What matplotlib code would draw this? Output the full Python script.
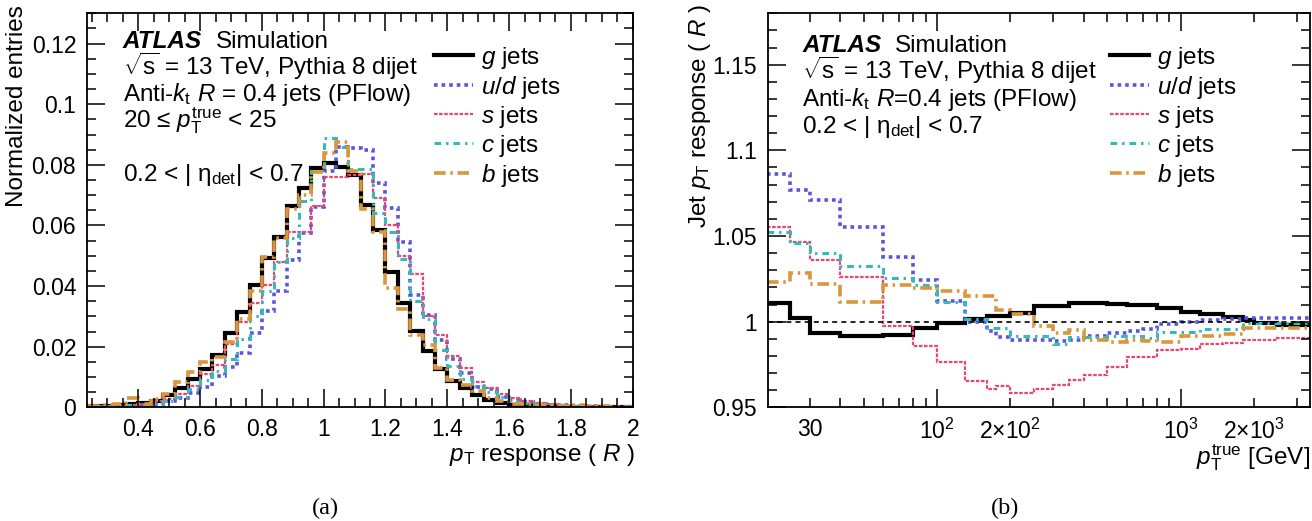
import numpy as np
import matplotlib
matplotlib.use("Agg")
import matplotlib.pyplot as plt
from matplotlib.lines import Line2D
from matplotlib.ticker import MultipleLocator, FixedLocator, FuncFormatter, LogLocator

plt.rcParams['font.family'] = ['Liberation Sans', 'DejaVu Sans']
plt.rcParams['mathtext.fontset'] = 'custom'
plt.rcParams['mathtext.rm'] = 'Liberation Sans'
plt.rcParams['mathtext.it'] = 'Liberation Sans:italic'
plt.rcParams['mathtext.bf'] = 'Liberation Sans:bold'
FS = 17.5
TFS = 16.5

# ---- (a) response distributions, 20 <= pT < 25 GeV ----
resp_edges = np.round(np.arange(0.24, 2.0001, 0.04), 2)

g_resp = [0.0003, 0.0005, 0.0007, 0.0010, 0.0015, 0.0020, 0.0040, 0.0065, 0.0092, 0.0128,
          0.0172, 0.0246, 0.0314, 0.0405, 0.0494, 0.0562, 0.0664, 0.0722, 0.0788, 0.0807,
          0.0793, 0.0765, 0.0667, 0.0584, 0.0447, 0.0343, 0.0251, 0.0186, 0.0125, 0.0087,
          0.0063, 0.0041, 0.0024, 0.0015, 0.0009, 0.0006, 0.0004, 0.0003, 0.0002, 0.0002,
          0.0001, 0.0001, 0.0001, 0.0001]
ud_resp = [0.0002, 0.0002, 0.0003, 0.0005, 0.0008, 0.0012, 0.0020, 0.0030, 0.0046, 0.0068,
           0.0103, 0.0134, 0.0180, 0.0244, 0.0318, 0.0384, 0.0485, 0.0575, 0.0661, 0.0780,
           0.0860, 0.0855, 0.0850, 0.0740, 0.0656, 0.0546, 0.0372, 0.0306, 0.0222, 0.0158,
           0.0114, 0.0068, 0.0059, 0.0035, 0.0025, 0.0016, 0.0011, 0.0008, 0.0006, 0.0004,
           0.0003, 0.0002, 0.0002, 0.0001]
s_resp = [0.0003, 0.0004, 0.0005, 0.0008, 0.0012, 0.0020, 0.0028, 0.0045, 0.0070, 0.0110,
          0.0140, 0.0210, 0.0280, 0.0345, 0.0405, 0.0480, 0.0580, 0.0580, 0.0665, 0.0760,
          0.0760, 0.0765, 0.0770, 0.0690, 0.0600, 0.0500, 0.0440, 0.0300, 0.0240, 0.0170,
          0.0130, 0.0085, 0.0065, 0.0045, 0.0030, 0.0020, 0.0014, 0.0010, 0.0007, 0.0005,
          0.0004, 0.0003, 0.0002, 0.0002]
c_resp = [0.0002, 0.0003, 0.0004, 0.0006, 0.0008, 0.0014, 0.0022, 0.0035, 0.0060, 0.0090,
          0.0120, 0.0160, 0.0225, 0.0300, 0.0385, 0.0480, 0.0560, 0.0680, 0.0780, 0.0890,
          0.0860, 0.0785, 0.0785, 0.0640, 0.0580, 0.0490, 0.0350, 0.0290, 0.0190, 0.0135,
          0.0095, 0.0070, 0.0050, 0.0035, 0.0022, 0.0015, 0.0010, 0.0007, 0.0005, 0.0004,
          0.0003, 0.0002, 0.0002, 0.0001]
b_resp = [0.0004, 0.0006, 0.0010, 0.0030, 0.0012, 0.0028, 0.0045, 0.0085, 0.0115, 0.0150,
          0.0165, 0.0215, 0.0290, 0.0385, 0.0495, 0.0560, 0.0655, 0.0700, 0.0775, 0.0840,
          0.0875, 0.0780, 0.0655, 0.0580, 0.0395, 0.0325, 0.0240, 0.0205, 0.0130, 0.0090,
          0.0075, 0.0055, 0.0030, 0.0020, 0.0012, 0.0010, 0.0008, 0.0006, 0.0005, 0.0007,
          0.0004, 0.0003, 0.0002, 0.0001]

# ---- (b) mean response vs pT(true) ----
pt_edges = [20, 25, 30, 40, 60, 80, 100, 130, 160, 175, 200, 250, 300, 350, 400, 500,
            600, 700, 800, 1000, 1200, 1500, 1800, 2000, 2500, 3000, 3500]

g_mean = [1.0109, 1.0022, 0.9934, 0.9915, 0.9924, 0.9963, 0.9990, 1.0016, 1.0031, 1.0031,
          1.0050, 1.0089, 1.0093, 1.0109, 1.0109, 1.0103, 1.0099, 1.0097, 1.0080, 1.0056,
          1.0045, 1.0026, 1.0010, 0.9990, 0.9978, 0.9978]
ud_mean = [1.0860, 1.0767, 1.0709, 1.0551, 1.0380, 1.0244, 1.0118, 0.9996, 0.9944, 0.9911,
           0.9890, 0.9890, 0.9886, 0.9895, 0.9915, 0.9934, 0.9945, 0.9957, 0.9987, 0.9996,
           1.0008, 1.0016, 1.0023, 1.0023, 1.0020, 1.0020]
s_mean = [1.0550, 1.0467, 1.0360, 1.0258, 0.9977, 0.9857, 0.9766, 0.9653, 0.9605, 0.9624,
          0.9585, 0.9605, 0.9628, 0.9659, 0.9686, 0.9735, 0.9795, 0.9795, 0.9837, 0.9840,
          0.9870, 0.9875, 0.9890, 0.9895, 0.9905, 0.9905]
c_mean = [1.0521, 1.0461, 1.0403, 1.0326, 1.0254, 1.0215, 1.0112, 1.0016, 0.9963, 0.9963,
          0.9915, 0.9915, 0.9870, 0.9911, 0.9911, 0.9919, 0.9919, 0.9905, 0.9938, 0.9940,
          0.9957, 0.9960, 0.9990, 0.9990, 0.9992, 0.9992]
b_mean = [1.0229, 1.0283, 1.0219, 1.0112, 1.0215, 1.0196, 1.0176, 1.0151, 1.0151, 1.0070,
          1.0047, 0.9977, 0.9934, 0.9950, 0.9895, 0.9880, 0.9890, 0.9886, 0.9880, 0.9915,
          0.9915, 0.9930, 0.9963, 0.9963, 0.9963, 0.9963]

labels = [r'$g$ jets', r'$u/d$ jets', r'$s$ jets', r'$c$ jets', r'$b$ jets']
styles = [
    dict(color='black', lw=3.0, ls='-'),
    dict(color='#5a55e0', lw=2.6, ls=(0, (1, 1.1))),
    dict(color='#e8466e', lw=1.6, ls=(0, (1.6, 0.7))),
    dict(color='#35baba', lw=2.2, ls=(0, (2.2, 1.6, 0.8, 1.6))),
    dict(color='#d9963c', lw=2.6, ls=(0, (3.2, 1.3, 0.7, 1.3))),
]

W, H = 1312, 521
fig = plt.figure(figsize=(W / 100, H / 100), dpi=100)
ax1 = fig.add_axes([87.3 / W, 1 - 407.3 / H, (632.7 - 87.3) / W, 394 / H])
ax2 = fig.add_axes([768.3 / W, 1 - 407.3 / H, (1310 - 768.3) / W, 394 / H])

for vals, st in zip([g_resp, ud_resp, s_resp, c_resp, b_resp], styles):
    ax1.stairs(vals, resp_edges, color=st['color'], lw=st['lw'], ls=st['ls'])
for vals, st in zip([g_mean, ud_mean, s_mean, c_mean, b_mean], styles):
    ax2.stairs(vals, pt_edges, color=st['color'], lw=st['lw'], ls=st['ls'], baseline=None)
ax2.axhline(1.0, color='black', lw=1.2, ls=(0, (3, 2.5)))

ax1.set_xlim(0.235, 2.0)
ax1.set_ylim(0, 0.13)
ax1.xaxis.set_major_locator(MultipleLocator(0.2))
ax1.xaxis.set_minor_locator(MultipleLocator(0.05))
ax1.yaxis.set_major_locator(MultipleLocator(0.02))
ax1.yaxis.set_minor_locator(MultipleLocator(0.005))
fmt = FuncFormatter(lambda v, p: '%g' % round(v, 3))
ax1.xaxis.set_major_formatter(fmt)
ax1.yaxis.set_major_formatter(fmt)

ax2.set_xscale('log')
ax2.set_xlim(20.3, 3400)
ax2.set_ylim(0.95, 1.18)
ax2.xaxis.set_major_locator(FixedLocator([100, 1000]))
ax2.xaxis.set_minor_locator(LogLocator(base=10, subs=np.arange(2, 10), numticks=20))
ax2.xaxis.set_major_formatter(FuncFormatter(lambda v, p: r'$10^{%d}$' % round(np.log10(v))))
minor_lab = {30: '30', 200: r'$2{\times}10^{2}$', 2000: r'$2{\times}10^{3}$'}
ax2.xaxis.set_minor_formatter(FuncFormatter(lambda v, p: minor_lab.get(int(round(v)), '')))
ax2.yaxis.set_major_locator(MultipleLocator(0.05))
ax2.yaxis.set_minor_locator(MultipleLocator(0.01))
ax2.yaxis.set_major_formatter(fmt)

for ax in (ax1, ax2):
    for sp in ax.spines.values():
        sp.set_linewidth(1.3)
    ax.tick_params(which='both', direction='in', top=True, right=True, labelsize=TFS, width=1.1)
    ax.tick_params(which='major', length=13, pad=8)
    ax.tick_params(which='minor', length=6.5, pad=8)

ax1.set_ylabel('Normalized entries', fontsize=FS, loc='top')
ax1.yaxis.set_label_coords(-0.108, 1.02)
ax1.set_xlabel(r'$p_{\mathrm{T}}$ response ( $R$ )', fontsize=FS, loc='right')
ax1.xaxis.set_label_coords(1.004, -0.088)
ax2.set_ylabel(r'Jet $p_{\mathrm{T}}$ response ( $R$ )', fontsize=FS, loc='top')
ax2.yaxis.set_label_coords(-0.102, 1.025)
ax2.set_xlabel(r'$p_{\mathrm{T}}^{\mathrm{true}}$ [GeV]', fontsize=FS, loc='right')
ax2.xaxis.set_label_coords(1.0, -0.088)


def ftext(x, y, s, **kw):
    fig.text(x / W, 1 - y / H, s, fontsize=FS, va='baseline', ha='left', **kw)


ftext(123, 48, 'ATLAS', weight='bold', style='italic')
ftext(216, 48, 'Simulation')
ftext(123, 75, r'$\sqrt{\mathrm{s}}$ = 13 TeV, Pythia 8 dijet')
ftext(123, 101, r'Anti-$k_{\mathrm{t}}$ $R$ = 0.4 jets (PFlow)')
ftext(123, 128, r'20 ≤ $p_{\mathrm{T}}^{\mathrm{true}}$ < 25')
ftext(123, 181, r'0.2 < | η$_{\mathrm{det}}$| < 0.7')

ftext(802, 52, 'ATLAS', weight='bold', style='italic')
ftext(895, 52, 'Simulation')
ftext(802, 79, r'$\sqrt{\mathrm{s}}$ = 13 TeV, Pythia 8 dijet')
ftext(802, 106, r'Anti-$k_{\mathrm{t}}$ $R$=0.4 jets (PFlow)')
ftext(802, 133, r'0.2 < | η$_{\mathrm{det}}$| < 0.7')

handles = [Line2D([], [], color=st['color'], lw=st['lw'], ls=st['ls']) for st in styles]
for ax, x0 in ((ax1, 434), (ax2, 1110)):
    ax.legend(handles, labels, loc='upper left', bbox_to_anchor=(x0 / W, 1 - 45 / H),
              bbox_transform=fig.transFigure, frameon=False, fontsize=FS,
              handlelength=1.6, handletextpad=0.35, labelspacing=0.12,
              borderpad=0, borderaxespad=0)

fig.text(325 / W, 1 - 508 / H, '(a)', fontsize=FS, family='Liberation Serif', ha='center', va='center')
fig.text(1005 / W, 1 - 508 / H, '(b)', fontsize=FS, family='Liberation Serif', ha='center', va='center')

fig.savefig('out.png', dpi=100)
